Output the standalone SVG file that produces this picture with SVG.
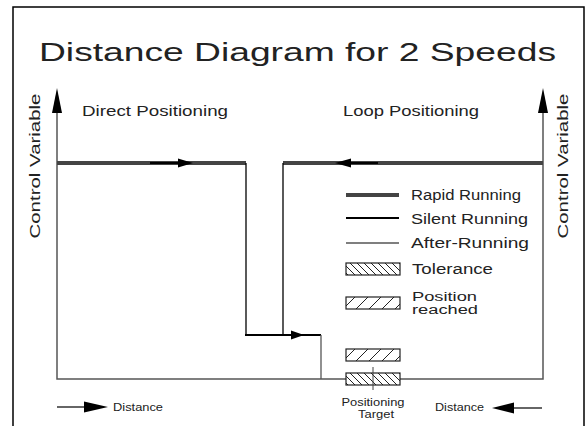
<svg xmlns="http://www.w3.org/2000/svg" width="588" height="426" viewBox="0 0 588 426">
<style>
text{font-family:"Liberation Sans","DejaVu Sans",sans-serif;fill:#222;}
.rapid{stroke:#444;stroke-width:4;fill:none;}
.silent{stroke:#000;stroke-width:2;fill:none;}
.after{stroke:#555;stroke-width:1.3;fill:none;}
.thin{stroke:#000;stroke-width:1.3;fill:none;}
.hatch{stroke:#222;stroke-width:1;}
.box{fill:none;stroke:#222;stroke-width:1.2;}
</style>
<defs>
<clipPath id="c1"><rect x="346" y="263" width="54" height="12"/></clipPath>
<clipPath id="c2"><rect x="346" y="297" width="54" height="12"/></clipPath>
<clipPath id="c3"><rect x="346" y="349" width="54" height="12"/></clipPath>
<clipPath id="c4"><rect x="346" y="373" width="54" height="12"/></clipPath>
</defs>
<rect width="588" height="426" fill="#fff"/>
<g id="frame">
<path d="M13,426 V7 H584 V426" fill="none" stroke="#000" stroke-width="1.5"/>
</g>
<g id="title"><text x="39" y="61" font-size="26" textLength="517" lengthAdjust="spacingAndGlyphs">Distance Diagram for 2 Speeds</text></g>
<g id="axes">
<path d="M57,110 V379 H543 V110" fill="none" stroke="#555" stroke-width="1.5"/>
<polygon points="57,88 52,113 62,113" fill="#000"/>
<polygon points="543,88 538,113 548,113" fill="#000"/>
<text x="40" y="166" font-size="14" text-anchor="middle" transform="rotate(-90 40 166)" textLength="145" lengthAdjust="spacingAndGlyphs">Control Variable</text>
<text x="568" y="166" font-size="14" text-anchor="middle" transform="rotate(-90 568 166)" textLength="145" lengthAdjust="spacingAndGlyphs">Control Variable</text>
</g>
<g id="labels">
<text x="82" y="116" font-size="14" textLength="146" lengthAdjust="spacingAndGlyphs">Direct Positioning</text>
<text x="343" y="116" font-size="14" textLength="136" lengthAdjust="spacingAndGlyphs">Loop Positioning</text>
</g>
<g id="connectors">
<path class="rapid" d="M57,163 H246"/>
<path class="rapid" d="M283,163 H543"/>
<path class="silent" d="M150,163 H180"/>
<polygon points="193,163 178,158.5 178,167.5" fill="#000"/>
<path class="silent" d="M349,163 H378"/>
<polygon points="335,163 351,158.5 351,167.5" fill="#000"/>
<path class="thin" d="M246,163 V335"/>
<path class="thin" d="M283,163 V335"/>
<path class="silent" d="M245,335 H321"/>
<polygon points="304,335 291,330.5 291,339.5" fill="#000"/>
<path class="after" d="M321,335 V379"/>
</g>
<g id="legend">
<path class="rapid" d="M346,195 H399" stroke="#222"/>
<path class="silent" d="M346,218 H399"/>
<path class="after" d="M346,243 H399"/>
<text x="411" y="200" font-size="14" textLength="110" lengthAdjust="spacingAndGlyphs">Rapid Running</text>
<text x="411" y="224" font-size="14" textLength="117" lengthAdjust="spacingAndGlyphs">Silent Running</text>
<text x="411" y="248" font-size="14" textLength="118" lengthAdjust="spacingAndGlyphs">After-Running</text>
<g id="tolerance-key">
<g clip-path="url(#c1)" class="hatch">
<path d="M336,263 l12,12 M343,263 l12,12 M350,263 l12,12 M357,263 l12,12 M364,263 l12,12 M371,263 l12,12 M378,263 l12,12 M385,263 l12,12 M392,263 l12,12 M399,263 l12,12"/>
</g>
<rect class="box" x="346" y="263" width="54" height="12"/>
<text x="412" y="274" font-size="14" textLength="81" lengthAdjust="spacingAndGlyphs">Tolerance</text>
</g>
<g id="reached-key">
<g clip-path="url(#c2)" class="hatch">
<path d="M343,309 l12,-12 M356,309 l12,-12 M369,309 l12,-12 M382,309 l12,-12 M395,309 l12,-12"/>
</g>
<rect class="box" x="346" y="297" width="54" height="12"/>
<text x="412" y="301" font-size="12" textLength="65" lengthAdjust="spacingAndGlyphs">Position</text>
<text x="412" y="314" font-size="12" textLength="66" lengthAdjust="spacingAndGlyphs">reached</text>
</g>
</g>
<g id="target">
<g clip-path="url(#c3)" class="hatch">
<path d="M343,361 l12,-12 M356,361 l12,-12 M369,361 l12,-12 M382,361 l12,-12 M395,361 l12,-12"/>
</g>
<rect class="box" x="346" y="349" width="54" height="12"/>
<g clip-path="url(#c4)" class="hatch">
<rect x="346" y="373" width="54" height="12" fill="#fff" stroke="none"/>
<path d="M336,373 l12,12 M343,373 l12,12 M350,373 l12,12 M357,373 l12,12 M364,373 l12,12 M371,373 l12,12 M378,373 l12,12 M385,373 l12,12 M392,373 l12,12 M399,373 l12,12"/>
</g>
<rect class="box" x="346" y="373" width="54" height="12"/>
<path d="M373,367 V390" stroke="#444" stroke-width="1"/>
<text x="373" y="406" font-size="11" text-anchor="middle" textLength="63" lengthAdjust="spacingAndGlyphs">Positioning</text>
<text x="376" y="418" font-size="11" text-anchor="middle" textLength="36" lengthAdjust="spacingAndGlyphs">Target</text>
</g>
<g id="distance-left">
<path d="M57,407 H88" stroke="#000" stroke-width="1.2"/>
<polygon points="108,407 84,401.5 84,412.5" fill="#000"/>
<text x="113" y="411" font-size="11" textLength="50" lengthAdjust="spacingAndGlyphs">Distance</text>
</g>
<g id="distance-right">
<path d="M510,408 H542" stroke="#000" stroke-width="1.2"/>
<polygon points="492,408 514,402.5 514,413.5" fill="#000"/>
<text x="435" y="411" font-size="11" textLength="49" lengthAdjust="spacingAndGlyphs">Distance</text>
</g>
</svg>
